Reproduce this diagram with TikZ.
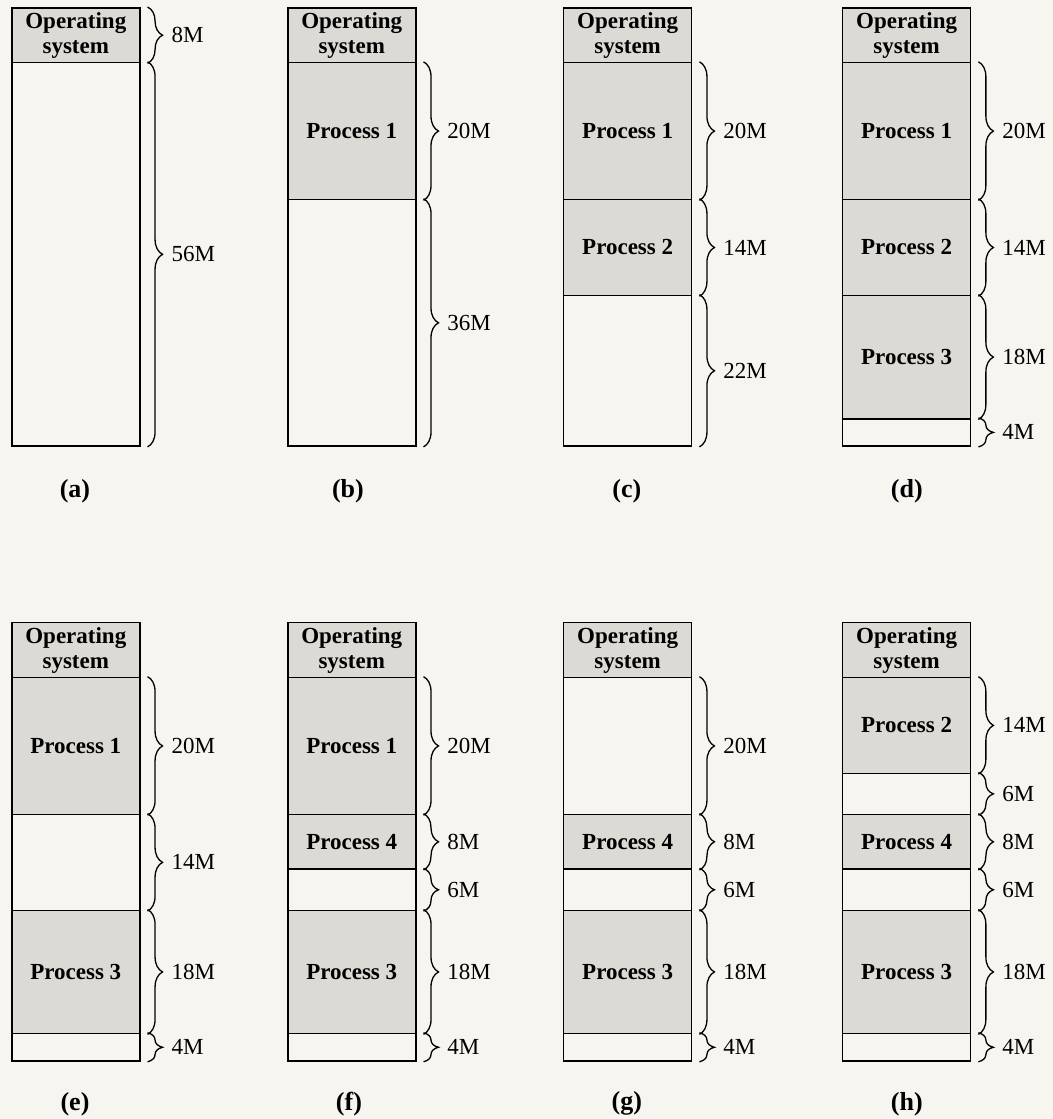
\documentclass[tikz,border=0pt]{standalone}
\usepackage{fontspec}
\setmainfont{Liberation Serif}
\usetikzlibrary{decorations.pathreplacing}
\definecolor{paper}{RGB}{247,245,240}
\definecolor{procfill}{RGB}{220,218,213}
\tikzset{
	memseg/.style={draw, line width=1.6pt, minimum width=128pt, anchor=north west, inner sep=0pt, align=center,
		font=\fontsize{23}{25}\selectfont\bfseries},
	procbox/.style={memseg, fill=procfill},
	holebox/.style={memseg},
	sizebrace/.style={decorate, decoration={brace, amplitude=15pt, raise=7pt}, line width=1.3pt},
	sizelabel/.style={midway, right=27pt},
	caplabel/.style={font=\bfseries\fontsize{26}{28}\selectfont}
}
\begin{document}
\begin{tikzpicture}[x=1pt, y=-1pt, font=\fontsize{23}{25}\selectfont]
	\fill[paper] (0,0) rectangle (1053,1119);
	\foreach \c/\x/\y in {a/11/7, b/287/7, c/563/7, d/842/7, e/11/622, f/287/622, g/563/622, h/842/622}
		\node[procbox, minimum height=54.8pt] (\c0) at (\x,\y) {Operating\\system};
	\draw[sizebrace] (a0.north east)--(a0.south east) node[sizelabel] {8M};

	\foreach \nm/\st/\en/\kind/\txt/\sz in {a1/8/64/holebox/{}/56M} {
		\node[\kind, minimum height={(\en-\st)*6.85pt}] (\nm) at (11, {7+6.85*\st}) {\txt};
		\draw[sizebrace] (\nm.north east)--(\nm.south east) node[sizelabel] {\sz};
	}
	\foreach \nm/\st/\en/\kind/\txt/\sz in {b1/8/28/procbox/Process 1/20M, b2/28/64/holebox/{}/36M} {
		\node[\kind, minimum height={(\en-\st)*6.85pt}] (\nm) at (287, {7+6.85*\st}) {\txt};
		\draw[sizebrace] (\nm.north east)--(\nm.south east) node[sizelabel] {\sz};
	}
	\foreach \nm/\st/\en/\kind/\txt/\sz in {c1/8/28/procbox/Process 1/20M, c2/28/42/procbox/Process 2/14M,
		c3/42/64/holebox/{}/22M} {
		\node[\kind, minimum height={(\en-\st)*6.85pt}] (\nm) at (563, {7+6.85*\st}) {\txt};
		\draw[sizebrace] (\nm.north east)--(\nm.south east) node[sizelabel] {\sz};
	}
	\foreach \nm/\st/\en/\kind/\txt/\sz in {d1/8/28/procbox/Process 1/20M, d2/28/42/procbox/Process 2/14M,
		d3/42/60/procbox/Process 3/18M, d4/60/64/holebox/{}/4M} {
		\node[\kind, minimum height={(\en-\st)*6.85pt}] (\nm) at (842, {7+6.85*\st}) {\txt};
		\draw[sizebrace] (\nm.north east)--(\nm.south east) node[sizelabel] {\sz};
	}

	\foreach \nm/\st/\en/\kind/\txt/\sz in {e1/8/28/procbox/Process 1/20M, e2/28/42/holebox/{}/14M,
		e3/42/60/procbox/Process 3/18M, e4/60/64/holebox/{}/4M} {
		\node[\kind, minimum height={(\en-\st)*6.85pt}] (\nm) at (11, {622+6.85*\st}) {\txt};
		\draw[sizebrace] (\nm.north east)--(\nm.south east) node[sizelabel] {\sz};
	}
	\foreach \nm/\st/\en/\kind/\txt/\sz in {f1/8/28/procbox/Process 1/20M, f2/28/36/procbox/Process 4/8M,
		f3/36/42/holebox/{}/6M, f4/42/60/procbox/Process 3/18M, f5/60/64/holebox/{}/4M} {
		\node[\kind, minimum height={(\en-\st)*6.85pt}] (\nm) at (287, {622+6.85*\st}) {\txt};
		\draw[sizebrace] (\nm.north east)--(\nm.south east) node[sizelabel] {\sz};
	}
	\foreach \nm/\st/\en/\kind/\txt/\sz in {g1/8/28/holebox/{}/20M, g2/28/36/procbox/Process 4/8M,
		g3/36/42/holebox/{}/6M, g4/42/60/procbox/Process 3/18M, g5/60/64/holebox/{}/4M} {
		\node[\kind, minimum height={(\en-\st)*6.85pt}] (\nm) at (563, {622+6.85*\st}) {\txt};
		\draw[sizebrace] (\nm.north east)--(\nm.south east) node[sizelabel] {\sz};
	}
	\foreach \nm/\st/\en/\kind/\txt/\sz in {h1/8/22/procbox/Process 2/14M, h2/22/28/holebox/{}/6M,
		h3/28/36/procbox/Process 4/8M, h4/36/42/holebox/{}/6M, h5/42/60/procbox/Process 3/18M,
		h6/60/64/holebox/{}/4M} {
		\node[\kind, minimum height={(\en-\st)*6.85pt}] (\nm) at (842, {622+6.85*\st}) {\txt};
		\draw[sizebrace] (\nm.north east)--(\nm.south east) node[sizelabel] {\sz};
	}

	\foreach \c/\x/\y in {a/75/491, b/348/491, c/627/491, d/907/491, e/75/1104, f/349/1104, g/627/1104, h/907/1104}
		\node[caplabel] (cap\c) at (\x,\y) {(\c)};
\end{tikzpicture}
\end{document}
